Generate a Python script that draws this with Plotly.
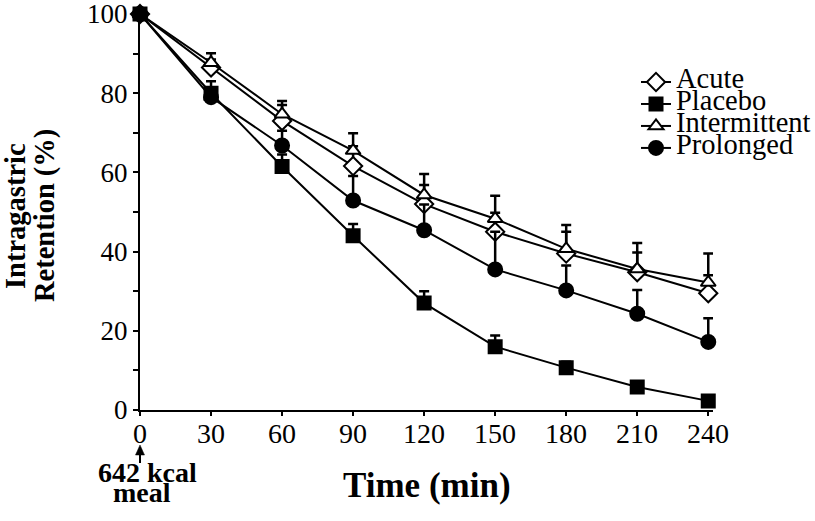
import plotly.graph_objects as go

time = [0, 30, 60, 90, 120, 150, 180, 210, 240]
acute = [100, 86.5, 73, 61.6, 52, 45, 39.5, 34.8, 29.5]
acute_err = [0, 2, 4, 5, 4.8, 4.8, 5.5, 5.0, 4.5]
placebo = [100, 80, 61.5, 44, 27, 16, 10.7, 5.8, 2.3]
placebo_err = [0, 3, 3, 3, 3, 2.8, 1.5, 1.2, 0.8]
intermittent = [100, 87.7, 74.7, 65.5, 54.3, 48.3, 40.7, 35.6, 32.2]
intermittent_err = [0, 2.4, 3.3, 4.4, 5.3, 5.8, 6.0, 6.6, 7.3]
prolonged = [100, 79, 66.8, 52.9, 45.4, 35.5, 30.2, 24.3, 17.2]
prolonged_err = [0, 1.5, 3.7, 6.2, 6.5, 9.5, 6.3, 6.0, 6.0]

FONT = '"Liberation Serif", "Times New Roman", Times, serif'
W, H = 815, 521
ML, MR, MT, MB = 140, 102, 14, 111
PH = H - MT - MB
PW = W - ML - MR
XMAX = 242


def py(p):
    """pixel y -> paper y"""
    return (H - MB - p) / PH


def px(p):
    return (p - ML) / PW


series = [
    ("Acute", acute, acute_err, "diamond", "white", 14),
    ("Placebo", placebo, placebo_err, "square", "black", 13),
    ("Intermittent", intermittent, intermittent_err, "triangle-up", "white", 13),
    ("Prolonged", prolonged, prolonged_err, "circle", "black", 14),
]

fig = go.Figure()
for name, vals, err, sym, fill, size in series:
    fig.add_trace(go.Scatter(
        x=time, y=vals, mode="lines+markers",
        name='<span style="font-size:28.5px">%s</span>' % name,
        line=dict(color="black", width=2),
        marker=dict(symbol=sym, size=size, color=fill,
                    line=dict(color="black", width=2)),
        error_y=dict(type="data", array=err, arrayminus=[0] * len(err),
                     symmetric=False, color="black", thickness=2.5, width=5),
        cliponaxis=False,
    ))

fig.update_layout(
    width=W, height=H,
    margin=dict(l=ML, r=MR, t=MT, b=MB, autoexpand=False),
    paper_bgcolor="white", plot_bgcolor="white",
    font=dict(family=FONT, color="black"),
    showlegend=True,
    legend=dict(x=px(636), y=py(66), xanchor="left", yanchor="top",
                font=dict(family=FONT, size=14.6, color="black"),
                itemwidth=30, bgcolor="rgba(0,0,0,0)", tracegroupgap=0),
    xaxis=dict(range=[0, XMAX], tickvals=time, ticks="outside", ticklen=4,
               tickwidth=1.5, tickcolor="black", showline=True, linewidth=2,
               linecolor="black", showgrid=False, zeroline=False,
               automargin=False, showticklabels=False),
    yaxis=dict(range=[0, 100], tickvals=[0, 20, 40, 60, 80, 100],
               ticks="outside", ticklen=5, tickwidth=1.5, tickcolor="black",
               minor=dict(dtick=10, ticks="outside", ticklen=5, tickwidth=1.5,
                          tickcolor="black"),
               showline=True, linewidth=2, linecolor="black", showgrid=False,
               zeroline=False, automargin=False, ticklabeloverflow="allow",
               tickfont=dict(family=FONT, size=27, color="black")),
)

# arrow pointing at meal time (left edge of the plot = time 0)
half = 4.5 / PW
fig.add_shape(type="line", xref="paper", yref="paper", x0=0, x1=0,
              y0=py(463), y1=py(451), line=dict(color="black", width=2))
fig.add_shape(type="path", xref="paper", yref="paper",
              path="M 0,%f L %f,%f L %f,%f Z" % (py(445), half, py(455), -half, py(455)),
              fillcolor="black", line=dict(color="black", width=0.5))

ann = [
    dict(text="<b>Time (min)</b>", x=0.5, xref="paper", y=py(485), yref="paper",
         showarrow=False, font=dict(size=35), xanchor="center", yanchor="middle"),
    dict(text="<b>Intragastric</b>", x=px(15), xref="paper",
         y=py(216), yref="paper", textangle=-90, showarrow=False,
         font=dict(size=28.5), xanchor="center", yanchor="middle"),
    dict(text="<b>Retention (%)</b>", x=px(45), xref="paper",
         y=py(216), yref="paper", textangle=-90, showarrow=False,
         font=dict(size=28.5), xanchor="center", yanchor="middle"),
    dict(text="<b>642 kcal</b>", x=px(147), xref="paper", y=py(472), yref="paper",
         showarrow=False, font=dict(size=28),
         xanchor="center", yanchor="middle"),
    dict(text="<b>meal</b>", x=px(142), xref="paper", y=py(492), yref="paper",
         showarrow=False, font=dict(size=28),
         xanchor="center", yanchor="middle"),
]
# x tick labels (placed as text at each tick value)
for t in time:
    ann.append(dict(text=str(t), x=t, xref="x", y=py(433), yref="paper",
                    showarrow=False, font=dict(size=28),
                    xanchor="center", yanchor="middle"))
for a in ann:
    f = a.get("font", {})
    f.setdefault("family", FONT)
    f.setdefault("color", "black")
    a["font"] = f
    fig.add_annotation(**a)

fig.write_html("out.html", config={"displayModeBar": False},
               post_script="document.body.style.margin='0px';document.body.style.overflow='hidden';")
